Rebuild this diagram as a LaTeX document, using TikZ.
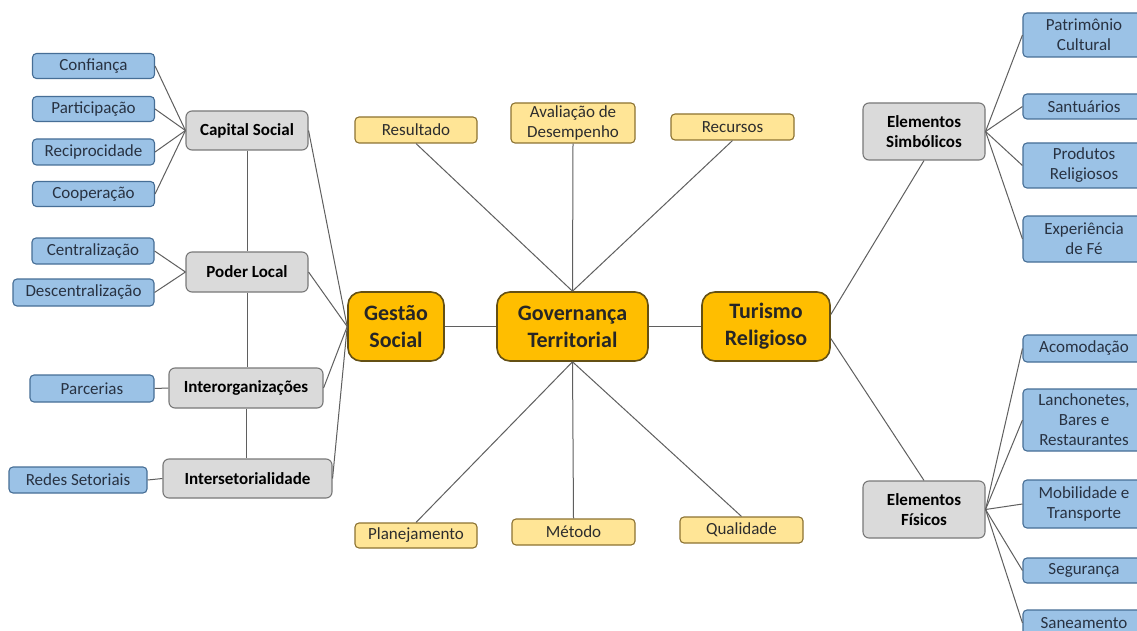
\documentclass[tikz,border=0pt]{standalone}
\usepackage{fontspec}
\setmainfont{Carlito}
\definecolor{bluefill}{RGB}{155,194,230}
\definecolor{blueline}{RGB}{70,110,150}
\definecolor{bluetext}{RGB}{40,50,66}
\definecolor{grayfill}{RGB}{218,218,218}
\definecolor{grayline}{RGB}{120,120,120}
\definecolor{yelfill}{RGB}{255,229,150}
\definecolor{yelline}{RGB}{140,115,50}
\definecolor{yeltext}{RGB}{45,45,45}
\definecolor{goldfill}{RGB}{255,190,0}
\definecolor{goldline}{RGB}{100,80,20}
\definecolor{linkc}{RGB}{95,95,95}
\tikzset{
  bluebox/.style={draw=blueline, fill=bluefill, rounded corners=4pt, line width=1.1pt,
    text=bluetext, font=\fontsize{17}{20}\selectfont, align=center, inner sep=0pt},
  graybox/.style={draw=grayline, fill=grayfill, rounded corners=6pt, line width=1.1pt,
    text=black, font=\fontsize{17}{20}\selectfont\bfseries, align=center, inner sep=0pt},
  yelbox/.style={draw=yelline, fill=yelfill, rounded corners=4pt, line width=1.1pt,
    text=yeltext, font=\fontsize{17}{20}\selectfont, align=center, inner sep=0pt},
  goldbox/.style={draw=goldline, fill=goldfill, rounded corners=13pt, line width=1.6pt,
    text=black!85, font=\fontsize{22}{27}\selectfont\bfseries, align=center, inner sep=0pt},
  link/.style={draw=linkc, line width=1pt}
}
\begin{document}
\begin{tikzpicture}[x=1pt,y=-1pt]
\useasboundingbox (0,0) rectangle (1137,631);
\fill[white] (0,0) rectangle (1137,631);
\begin{scope}
\clip (0,0) rectangle (1137,631);
% central row
\node[goldbox, minimum width=96, minimum height=69] (gest) at (396,326.5) {Gestão\\Social};
\node[goldbox, minimum width=151, minimum height=69] (gov) at (572.5,326.5) {Governança\\Territorial};
\node[goldbox, minimum width=128, minimum height=69] (tur) at (766,326.5) {Turismo\\Religioso};
% yellow boxes
\node[yelbox, minimum width=122, minimum height=26] (res) at (416,130) {Resultado};
\node[yelbox, minimum width=124, minimum height=40] (ava) at (573,123) {Avaliação de\\Desempenho};
\node[yelbox, minimum width=123, minimum height=26] (rec) at (732.5,127) {Recursos};
\node[yelbox, minimum width=122, minimum height=25] (pla) at (416,535.5) {Planejamento};
\node[yelbox, minimum width=123, minimum height=26] (met) at (573.5,532) {Método};
\node[yelbox, minimum width=123, minimum height=26] (qua) at (741.5,530) {Qualidade};
% left gray
\node[graybox, minimum width=122, minimum height=39] (cap) at (247,130.5) {Capital Social};
\node[graybox, minimum width=122, minimum height=40] (pod) at (247,272) {Poder Local};
\node[graybox, minimum width=154, minimum height=40] (int) at (246,388) {Interorganizações};
\node[graybox, minimum width=169, minimum height=39] (ins) at (247.5,478.5) {Intersetorialidade};
% left blue
\node[bluebox, minimum width=122, minimum height=25] (con) at (93.5,66) {Confiança};
\node[bluebox, minimum width=122, minimum height=25] (par) at (93.5,109) {Participação};
\node[bluebox, minimum width=122, minimum height=26] (rci) at (93.5,152) {Reciprocidade};
\node[bluebox, minimum width=122, minimum height=25] (coo) at (93.5,194) {Cooperação};
\node[bluebox, minimum width=122, minimum height=26] (cen) at (93,251) {Centralização};
\node[bluebox, minimum width=141, minimum height=27] (des) at (83.5,292.5) {Descentralização};
\node[bluebox, minimum width=124, minimum height=27] (pcs) at (92,388.5) {Parcerias};
\node[bluebox, minimum width=138, minimum height=26] (red) at (78,480) {Redes Setoriais};
% right gray
\node[graybox, minimum width=122, minimum height=57] (sim) at (924,131.5) {Elementos\\Simbólicos};
\node[graybox, minimum width=122, minimum height=57] (fis) at (924,509.5) {Elementos\\Físicos};
% right blue
\node[bluebox, minimum width=122, minimum height=44] (pat) at (1084,35) {Patrimônio\\Cultural};
\node[bluebox, minimum width=122, minimum height=25] (san) at (1084,106.5) {Santuários};
\node[bluebox, minimum width=122, minimum height=45] (pro) at (1084,165.5) {Produtos\\Religiosos};
\node[bluebox, minimum width=122, minimum height=46] (exp) at (1084,239) {Experiência\\de Fé};
\node[bluebox, minimum width=122, minimum height=27] (aco) at (1084,348.5) {Acomodação};
\node[bluebox, minimum width=122, minimum height=62] (lan) at (1084,420) {Lanchonetes,\\Bares e\\Restaurantes};
\node[bluebox, minimum width=122, minimum height=48] (mob) at (1084,504) {Mobilidade e\\Transporte};
\node[bluebox, minimum width=122, minimum height=25] (seg) at (1084,570.5) {Segurança};
\node[bluebox, minimum width=122, minimum height=26] (sne) at (1084,623) {Saneamento};
% connectors
\path[link] (gest.east) -- (gov.west);
\path[link] (gov.east) -- (tur.west);
\path[link] (gov.north) -- (res.south);
\path[link] (gov.north) -- (ava.south);
\path[link] (gov.north) -- (rec.south);
\path[link] (gov.south) -- (pla.north);
\path[link] (gov.south) -- (met.north);
\path[link] (gov.south) -- (qua.north);
\path[link] (cap.east) -- (gest.west);
\path[link] (pod.east) -- (gest.west);
\path[link] (int.east) -- (gest.west);
\path[link] (ins.east) -- (gest.west);
\path[link] (cap.south) -- (cap.south |- pod.north);
\path[link] (pod.south) -- (pod.south |- int.north);
\path[link] (int.south) -- (int.south |- ins.north);
\path[link] (con.east) -- (cap.west);
\path[link] (par.east) -- (cap.west);
\path[link] (rci.east) -- (cap.west);
\path[link] (coo.east) -- (cap.west);
\path[link] (cen.east) -- (pod.west);
\path[link] (des.east) -- (pod.west);
\path[link] (pcs.east) -- (int.west);
\path[link] (red.east) -- (ins.west);
\path[link] ([yshift=12pt]tur.east) -- (sim.south);
\path[link] ([yshift=-12pt]tur.east) -- (fis.north);
\path[link] (sim.east) -- (pat.west);
\path[link] (sim.east) -- (san.west);
\path[link] (sim.east) -- (pro.west);
\path[link] (sim.east) -- (exp.west);
\path[link] (fis.east) -- (aco.west);
\path[link] (fis.east) -- (lan.west);
\path[link] (fis.east) -- (mob.west);
\path[link] (fis.east) -- (seg.west);
\path[link] (fis.east) -- (sne.west);
\end{scope}
\end{tikzpicture}
\end{document}
